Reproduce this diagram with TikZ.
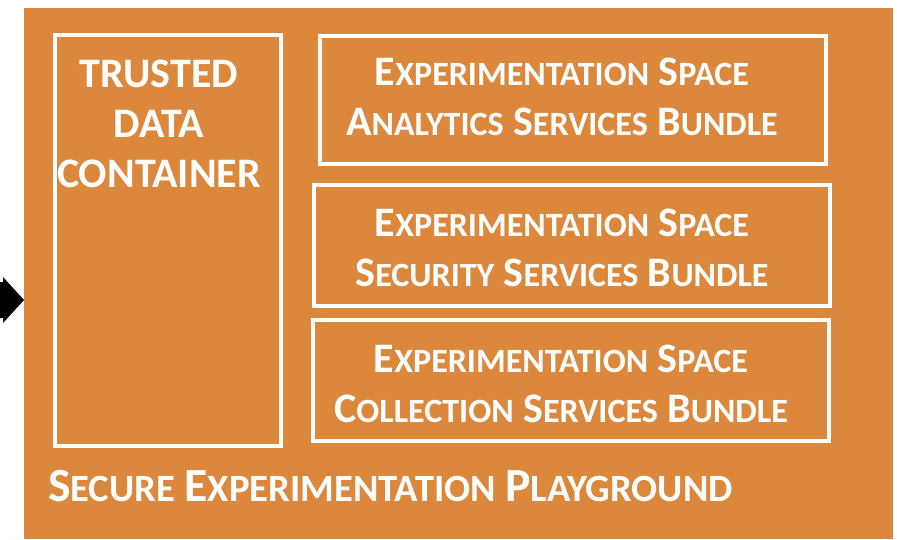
\documentclass[tikz,border=0pt]{standalone}
\usepackage{fontspec}
\usetikzlibrary{calc}
\setmainfont{Carlito}
\definecolor{bg}{HTML}{DB883D}
\newcommand\capsz{\fontsize{42}{50}\selectfont}
\newcommand\smsz{\fontsize{34}{50}\selectfont}
\newcommand\scw[2]{{\capsz #1}{\smsz #2}}
\newcommand\bcapsz{\fontsize{47.6}{50}\selectfont}
\newcommand\bsmsz{\fontsize{38.6}{50}\selectfont}
\newcommand\bscw[2]{{\bcapsz #1}{\bsmsz #2}}
\begin{document}
\begin{tikzpicture}[x=1pt,y=-1pt,
  frame/.style={draw=white,line width=4pt,inner sep=0pt,outer sep=0pt,anchor=north west},
  lbl/.style={text=white,font=\bfseries\capsz,align=center,inner sep=0pt,anchor=base}]
\useasboundingbox (0,0) rectangle (897,539);
\node[fill=bg,inner sep=0pt,outer sep=0pt,anchor=north west,minimum width=869pt,minimum height=531pt] (play) at (24,8) {};
\coordinate (src) at (-10,300);
\fill[black] ($(src)+(0,-18)$) -- (3,282) -- (3,277) -- (play.west |- 0,300) -- (3,323) -- (3,318) -- ($(src)+(0,18)$) -- cycle;
\node[frame,minimum width=226pt,minimum height=411pt] (trusted) at (55,35) {};
\node[frame,minimum width=506pt,minimum height=128pt] (analytics) at (320,36) {};
\node[frame,minimum width=516pt,minimum height=121pt] (security) at (314,185) {};
\node[frame,minimum width=516pt,minimum height=121pt] (collection) at (313,320) {};
\node[lbl] (ttext) at (159,187) {TRUSTED\\DATA\\CONTAINER};
\node[lbl] (atext) at (562,135) {\scw{E}{XPERIMENTATION} \scw{S}{PACE}\\\scw{A}{NALYTICS} \scw{S}{ERVICES} \scw{B}{UNDLE}};
\node[lbl] (stext) at (562,286) {\scw{E}{XPERIMENTATION} \scw{S}{PACE}\\\scw{S}{ECURITY} \scw{S}{ERVICES} \scw{B}{UNDLE}};
\node[lbl] (ctext) at (561,422) {\scw{E}{XPERIMENTATION} \scw{S}{PACE}\\\scw{C}{OLLECTION} \scw{S}{ERVICES} \scw{B}{UNDLE}};
\node[lbl,anchor=base west] (ptext) at (48,501) {\bscw{S}{ECURE} \bscw{E}{XPERIMENTATION} \bscw{P}{LAYGROUND}};
\end{tikzpicture}
\end{document}
